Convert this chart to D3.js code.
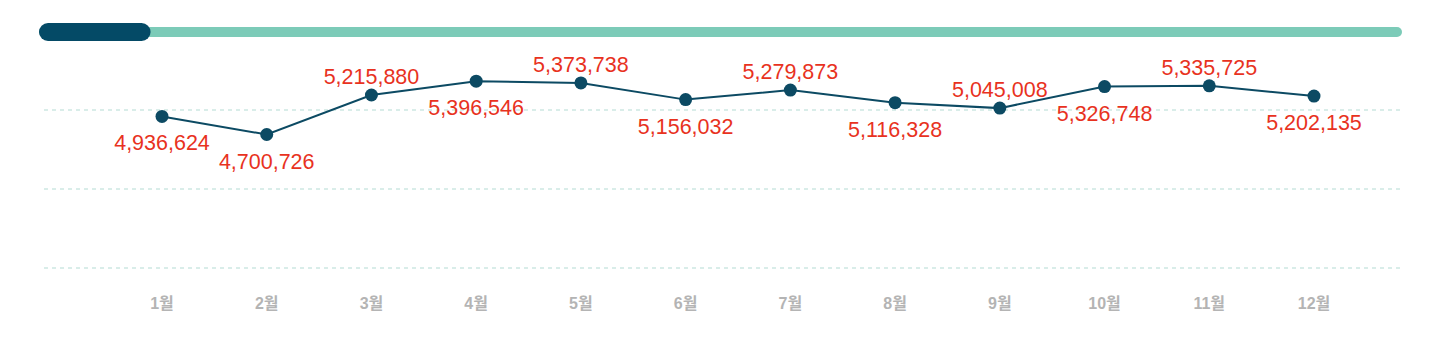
<!DOCTYPE html>
<html>
<head>
<meta charset="utf-8">
<script src="https://cdn.jsdelivr.net/npm/d3@7"></script>
<style>
  body { margin: 0; background: #fff; }
  svg { display: block; font-family: "Liberation Sans", Arial, "Noto Sans CJK KR", sans-serif; }
</style>
</head>
<body>
<div id="chart"></div>
<script>
// data
const months = ['1월','2월','3월','4월','5월','6월','7월','8월','9월','10월','11월','12월'];
const values = [4936624, 4700726, 5215880, 5396546, 5373738, 5156032, 5279873, 5116328, 5045008, 5326748, 5335725, 5202135];
const gridLevels = [0, 1, 2];
const progress = [1, 12]; // done / total

const width = 1444, height = 355;

const svg = d3.select('#chart').append('svg')
    .attr('width', width)
    .attr('height', height);

// progress bar at the top
const barScale = d3.scaleLinear().domain([0, progress[1]]).range([39, 1402]);
svg.append('rect')
    .attr('x', barScale(0)).attr('y', 27)
    .attr('width', barScale(progress[1]) - barScale(0)).attr('height', 10)
    .attr('rx', 5)
    .attr('fill', '#7ccbb8');
svg.append('rect')
    .attr('x', barScale(0)).attr('y', 23)
    .attr('width', barScale(progress[0]) - barScale(0) - 2).attr('height', 18)
    .attr('rx', 9)
    .attr('fill', '#044a66');

// scales
const x = d3.scalePoint()
    .domain(months)
    .range([162, 1314]);

const y = d3.scaleLinear()
    .domain([2959000, 5346700])
    .range([268, 85]);

const gridY = d3.scaleLinear().domain([0, 2]).range([110, 268]);

// gridlines
svg.append('g').selectAll('line')
    .data(gridLevels)
    .enter().append('line')
    .attr('x1', 44).attr('x2', 1400)
    .attr('y1', d => gridY(d)).attr('y2', d => gridY(d))
    .attr('stroke', '#b3dcd3')
    .attr('stroke-width', 1.2)
    .attr('stroke-dasharray', '4,4');

// x labels
svg.append('g').selectAll('text')
    .data(months)
    .enter().append('text')
    .attr('x', d => x(d))
    .attr('y', 309)
    .attr('text-anchor', 'middle')
    .attr('fill', '#b4b4b4')
    .attr('font-size', 16)
    .attr('font-weight', 'bold')
    .text(d => d);

const data = months.map((m, i) => ({month: m, value: values[i]}));

// line
const line = d3.line()
    .x(d => x(d.month))
    .y(d => y(d.value));

svg.append('path')
    .datum(data)
    .attr('d', line)
    .attr('fill', 'none')
    .attr('stroke', '#0c4a63')
    .attr('stroke-width', 2);

svg.append('g').selectAll('circle')
    .data(data)
    .enter().append('circle')
    .attr('cx', d => x(d.month))
    .attr('cy', d => y(d.value))
    .attr('r', 6.5)
    .attr('fill', '#0c4a63');

// value labels, alternating above / below
const fmt = d3.format(',');
svg.append('g').selectAll('text')
    .data(data)
    .enter().append('text')
    .attr('x', d => x(d.month))
    .attr('y', (d, i) => (i > 0 && i % 2 === 0) ? y(d.value) - 11 : y(d.value) + 34)
    .attr('text-anchor', 'middle')
    .attr('fill', '#e8321e')
    .attr('font-size', 21.5)
    .text(d => fmt(d.value));
</script>
</body>
</html>
